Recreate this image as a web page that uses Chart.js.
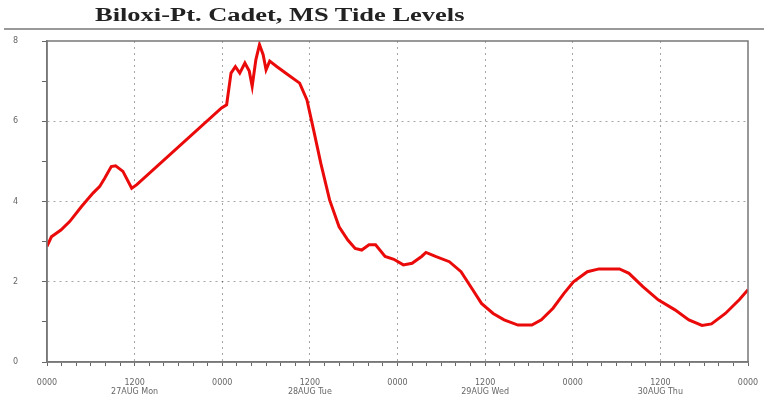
<!DOCTYPE html>
<html>
<head>
<meta charset="utf-8">
<script src="https://cdn.jsdelivr.net/npm/chart.js@4.4.1/dist/chart.umd.min.js"></script>
<style>
  html, body { margin: 0; padding: 0; background: #fff; }
  #wrap { position: relative; width: 764px; height: 399px; }
  #title {
    position: absolute; left: 95px; top: 5px;
    font: bold 18px "Liberation Serif", serif; color: #222;
    white-space: nowrap;
    transform: scaleX(1.47); transform-origin: left top;
  }
  #rule { position: absolute; left: 4px; right: 0; top: 28px; height: 0; border-top: 2px solid #999; }
  canvas { position: absolute; left: 0; top: 0; }
</style>
</head>
<body>
<div id="wrap">
  <canvas id="myChart" width="764" height="399"></canvas>
  <div id="title">Biloxi-Pt. Cadet, MS Tide Levels</div>
  <div id="rule"></div>
</div>
<script>
// heures depuis 0000 du 27, niveau de marée (ft)
const hours = [0, 0.6, 1.9, 3.1, 4.7, 6.3, 7.2, 7.9, 8.8, 9.4, 10.4, 11.6, 12.3,
  23.9, 24.6, 25.2, 25.8, 26.4, 27.1, 27.7, 28.1, 28.6, 29.1, 29.6, 30.0, 30.5,
  31.5, 33.0, 34.6, 35.6, 36.5, 37.5, 38.7, 40.0, 41.2, 42.2, 43.1, 44.1, 45.0,
  46.3, 47.5, 48.8, 50.0, 51.3, 51.9, 53.2, 55.1, 56.7, 58.3, 59.5, 61.1, 62.6,
  64.5, 66.4, 67.7, 69.3, 70.8, 72.1, 74.0, 75.6, 78.4, 79.7, 81.6, 83.7, 86.0,
  87.9, 89.7, 91.0, 92.9, 94.8, 96.0];
const levels = [2.88, 3.12, 3.29, 3.50, 3.87, 4.21, 4.37, 4.58, 4.87, 4.89, 4.75, 4.33, 4.42,
  6.33, 6.41, 7.20, 7.36, 7.20, 7.45, 7.25, 6.87, 7.53, 7.91, 7.66, 7.28, 7.50,
  7.36, 7.16, 6.95, 6.53, 5.79, 4.95, 4.04, 3.37, 3.04, 2.83, 2.79, 2.92, 2.92,
  2.63, 2.56, 2.42, 2.46, 2.63, 2.73, 2.63, 2.50, 2.25, 1.80, 1.46, 1.21, 1.05,
  0.92, 0.92, 1.05, 1.34, 1.71, 2.00, 2.25, 2.32, 2.32, 2.21, 1.88, 1.55, 1.30,
  1.05, 0.91, 0.95, 1.21, 1.55, 1.80];

// étiquettes de l'axe x, toutes les 12 heures
const tickHours = [0, 12, 24, 36, 48, 60, 72, 84, 96];
const tickLabels = [
  ["0000"], ["1200", "27AUG Mon"], ["0000"], ["1200", "28AUG Tue"], ["0000"],
  ["1200", "29AUG Wed"], ["0000"], ["1200", "30AUG Thu"], ["0000"]
];
const yLabels = ["0", "2", "4", "6", "8"];

const frame = {
  id: "frame",
  afterDraw(chart) {
    const a = chart.chartArea;
    const ctx = chart.ctx;
    ctx.save();
    ctx.strokeStyle = "#777";
    ctx.lineWidth = 1.5;
    ctx.strokeRect(a.left, a.top, a.right - a.left, a.bottom - a.top);
    ctx.restore();
  },
};

const ctx = document.getElementById("myChart").getContext("2d");
const myChart = new Chart(ctx, {
  type: "line",
  data: {
    datasets: [{
      data: hours.map((h, i) => ({ x: h, y: levels[i] })),
      borderColor: "rgb(235, 10, 10)",
      borderWidth: 3,
      pointRadius: 0,
      tension: 0,
    }],
  },
  options: {
    responsive: false,
    animation: false,
    layout: { padding: { left: 0, top: 41, right: 16, bottom: 0 } },
    plugins: { legend: { display: false }, tooltip: { enabled: false } },
    scales: {
      x: {
        type: "linear",
        min: 0,
        max: 96,
        afterFit: (s) => { s.height = 37; s.paddingLeft = 0; s.paddingRight = 0; },
        afterBuildTicks: (s) => {
          const t = [];
          for (let h = 0; h <= 96; h += 2) t.push({ value: h });
          s.ticks = t;
        },
        ticks: {
          autoSkip: false,
          maxRotation: 0,
          padding: 12,
          color: "#666",
          font: { family: "DejaVu Sans", size: 8 },
          callback: (v) => {
            const i = tickHours.indexOf(v);
            return i >= 0 ? tickLabels[i] : "";
          },
        },
        grid: {
          color: (c) => (c.tick && c.tick.value % 12 === 0 && c.tick.value > 0 && c.tick.value < 96)
            ? "rgba(0,0,0,0.35)" : "rgba(0,0,0,0)",
          tickColor: "#666",
          tickLength: 4,
        },
        border: { color: "#777", width: 1.5, dash: [2, 4] },
      },
      y: {
        min: 0,
        max: 8,
        afterFit: (s) => { s.width = 47; },
        ticks: {
          stepSize: 1,
          padding: 24,
          color: "#666",
          font: { family: "DejaVu Sans", size: 8 },
          callback: (v) => (v % 2 === 0 ? yLabels[v / 2] : ""),
        },
        grid: {
          color: (c) => (c.tick && c.tick.value % 2 === 0 && c.tick.value > 0 && c.tick.value < 8)
            ? "rgba(0,0,0,0.35)" : "rgba(0,0,0,0)",
          tickColor: "#666",
          tickLength: 5,
        },
        border: { color: "#777", width: 1.5, dash: [2, 4] },
      },
    },
  },
  plugins: [frame],
});
</script>
</body>
</html>
